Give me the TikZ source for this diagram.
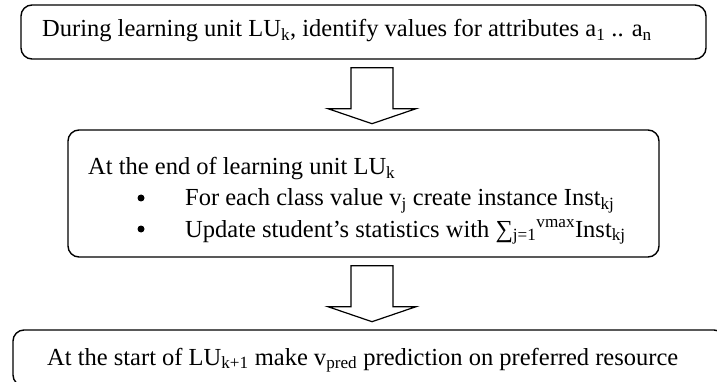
\documentclass[tikz,border=0pt]{standalone}
\usepackage{fontspec}
\setmainfont{Liberation Serif}
\usetikzlibrary{calc}

\begin{document}
\begin{tikzpicture}[x=1pt,y=1pt,
        stage/.style={draw, line width=1.4pt, rounded corners=11pt, inner sep=0pt},
        txt/.style={anchor=base west, inner sep=0pt, font=\fontsize{24.5}{28}\selectfont},
        dot/.style={circle, fill, inner sep=0pt, minimum size=7pt},
        bigarrow/.style={draw, line width=1.2pt, fill=white, line join=miter}]
        % frame
        \useasboundingbox (0,0) rectangle (717,-382);
        \clip (0,0) rectangle (717,-382);
        % boxes
        \node[stage, minimum width=685pt, minimum height=54pt] (during) at (363.5,-32) {};
        \node[stage, minimum width=591pt, minimum height=127pt] (endunit) at (363.5,-193.5) {};
        \node[stage, minimum width=712pt, minimum height=56pt] (start) at (369,-358) {};
        % texts
        \node[txt] (t1) at (42,-37) {During learning unit LU\textsubscript{k}, identify values for attributes a\textsubscript{1} .. a\textsubscript{n}};
        \node[txt] (t2) at (88,-175) {At the end of learning unit LU\textsubscript{k}};
        \node[dot] (b1) at (141,-198) {};
        \node[txt] (t3) at (185,-206) {For each class value v\textsubscript{j} create instance Inst\textsubscript{kj}};
        \node[dot] (b2) at (141,-229) {};
        \node[txt] (t4) at (185,-237) {Update student’s statistics with ∑\textsubscript{j=1}\textsuperscript{vmax}Inst\textsubscript{kj}};
        \node[txt] (t5) at (47,-365) {At the start of LU\textsubscript{k+1} make v\textsubscript{pred} prediction on preferred resource};
        % block arrows
        \foreach \from in {during, endunit}
            \draw[bigarrow] ($(\from.south)+(-12.5,-8)$) -- ++(42,0) -- ++(0,-41) -- ++(23,0)
                -- ++(-44,-15) -- ++(-44,15) -- ++(23,0) -- cycle;
\end{tikzpicture}
\end{document}
